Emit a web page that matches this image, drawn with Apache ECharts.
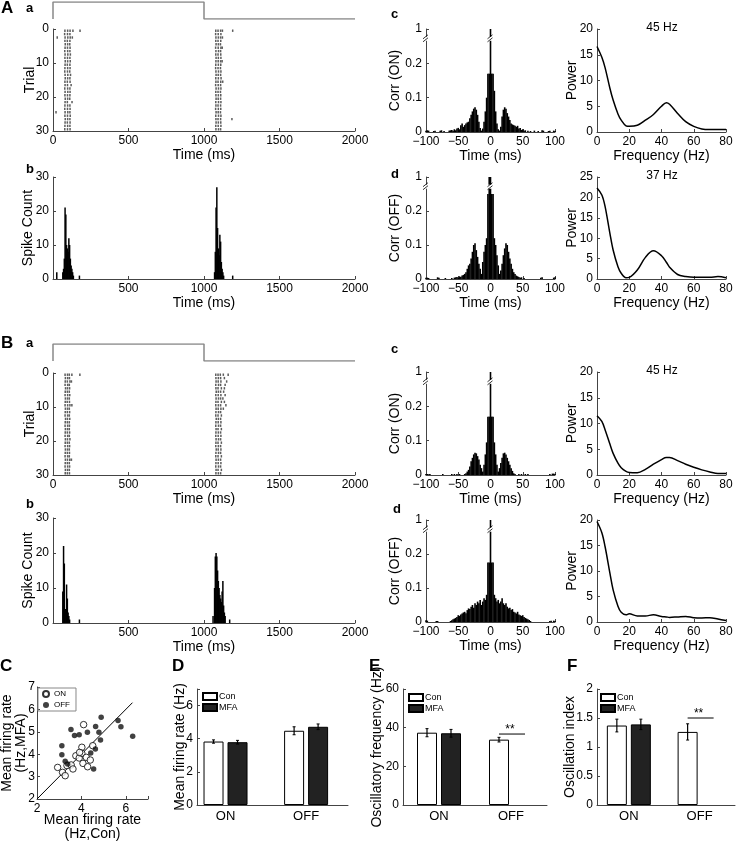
<!DOCTYPE html>
<html><head><meta charset="utf-8">
<script src="https://cdn.jsdelivr.net/npm/echarts@6/dist/echarts.min.js"></script>
<style>html,body{margin:0;padding:0;background:#fff}#c{width:738px;height:842px}</style>
</head><body><div id="c"></div><script>
// ---------------- DATA ----------------
const stimT = [0, 0, 1000, 1000, 2000];
const stimV = [0, 1, 1, 0, 0];

const rasterA_on = [
[79,97,113,132,179],[77,96,112],[28,80,98,114,128],[79,95,112],[81,97,111],
[80,96,113],[78,97,112],[80,98,115],[79,96,112],[81,97,114],
[80,95,112],[79,97,113],[78,96,111],[80,98,116],[81,97,112],
[79,95,113],[80,96,120],[78,97,112],[80,98,113],[79,96,112],
[81,97,111],[80,95,126],[79,97,112],[78,96,113],[20,80,98,112],
[79,96,114],[81,97,112],[80,95,113],[79,97,112],[78,96,113]];
const rasterA_off = [
[1078,1093,1110,1122,1190],[1077,1094,1112],[1079,1095,1110,1122],[1078,1093,1111],[1080,1095,1109],
[1077,1094,1112,1121],[1079,1096,1110],[1078,1093,1111],[1080,1095,1112],[1079,1094,1110,1120],
[1078,1095,1111],[1077,1093,1109],[1079,1096,1112],[1080,1094,1110],[1078,1095,1113],
[1079,1093,1111,1124],[1077,1094,1110],[1080,1096,1112],[1078,1093,1109],[1079,1095,1111],
[1080,1094,1110],[1078,1096,1112],[1079,1093,1110],[1077,1095,1111],[1080,1094,1109],
[1078,1096,1112],[1079,1093,1110,1185],[1080,1095,1111],[1078,1094,1112],[1079,1096,1110]];
const rasterB_on = [
[80,96,108,125,178],[82,97,109],[81,95,112,122],[80,97,108],[83,96,110],
[81,95,108],[80,97,111],[82,96,108],[81,94,109],[80,97,112,125],
[82,96,108],[81,95,110],[80,97,108],[83,96,111],[81,95,108],
[80,97,109],[82,96,108],[81,95,110],[80,97,108],[82,96,112],
[81,95,108],[80,97,110],[82,96,108],[81,95,109],[80,97,108],
[82,96,111,122],[81,95,108],[80,97,110],[82,96,108],[81,95,109]];
const rasterB_off = [
[1078,1093,1108,1128,1160],[1079,1095,1110,1135],[1080,1094,1112,1150],[1078,1096,1110,1140],[1079,1093,1115,1135],
[1081,1095,1110,1130],[1078,1094,1112,1140],[1080,1096,1110,1125],[1079,1093,1115,1135],[1078,1095,1110,1145],
[1080,1094,1112,1128],[1079,1096,1110],[1078,1093,1115],[1081,1095,1110],[1079,1094,1112],
[1078,1096,1110],[1080,1093,1115],[1079,1095,1110],[1078,1094,1112],[1080,1096,1110],
[1079,1093,1115],[1078,1095,1110],[1081,1094,1112],[1079,1096,1110],[1078,1093,1115],
[1080,1095,1110],[1079,1094,1112],[1078,1096,1110],[1080,1093,1115],[1079,1095,1110]];

const histA_t = [25,65,70,75,80,85,90,95,100,105,110,115,120,125,130,135,175,
                 1070,1075,1080,1085,1090,1095,1100,1105,1110,1115,1120,1125,1130,1190];
const histA_n = [2,2,3,6,21,19,10,9,8,12,10,6,4,3,2,1,1,
                 2,8,21,27,15,9,7,13,11,5,3,2,1,1];
const histB_t = [65,70,75,80,85,90,95,100,105,110,175,
                 1060,1070,1075,1080,1085,1090,1095,1100,1105,1110,1115,1120,1125,1130,1135,1140,1170];
const histB_n = [9,22,17,4,4,11,7,3,2,1,1,
                 2,10,19,20,19,15,12,10,8,7,6,9,12,5,3,2,1];

// cross-correlograms, 2 ms bins, lags -100 ... 100
const corrA_on = [
0.004,0.005,0.004,0,0,0,0.003,0.004,0,0,
0,0.004,0.005,0,0.003,0,0,0,0.004,0.005,
0.006,0.004,0.008,0.005,0.01,0.012,0.008,0.02,0.025,0.015,
0.02,0.025,0.028,0.03,0.04,0.05,0.06,0.068,0.072,0.065,
0.05,0.03,0.012,0.004,0.01,0.03,0.06,0.1,0.17,0.17,
1,
0.17,0.17,0.12,0.06,0.025,0.008,0.004,0.015,0.045,0.065,
0.072,0.068,0.055,0.045,0.035,0.025,0.022,0.02,0.018,0.015,
0.018,0.01,0.012,0.006,0.008,0.004,0.005,0,0.004,0,
0.003,0,0,0.004,0,0,0.003,0,0,0.005,
0.004,0,0,0,0.003,0.004,0,0,0.004,0.003];
const corrA_off = [
0.004,0.004,0.003,0,0,0,0,0,0,0.005,
0.004,0,0,0,0,0.003,0,0,0,0,
0.003,0,0.004,0.005,0.006,0.004,0.008,0.006,0.01,0.012,
0.015,0.02,0.03,0.04,0.045,0.06,0.08,0.1,0.105,0.085,
0.065,0.045,0.03,0.015,0.05,0.08,0.1,0.12,0.25,1,
1,
0.25,0.25,0.12,0.1,0.07,0.04,0.015,0.025,0.045,0.07,
0.09,0.105,0.1,0.08,0.06,0.045,0.03,0.02,0.015,0.01,
0.008,0.006,0.004,0.005,0,0.003,0,0,0,0,
0,0,0,0,0,0,0,0,0.004,0.005,
0,0,0,0,0,0,0,0,0.004,0.005];
const corrB_on = [
0.003,0.003,0.002,0.003,0,0,0,0,0,0,
0,0,0,0.003,0,0,0,0,0,0,
0.003,0,0.003,0,0.003,0,0.003,0,0,0,
0.003,0.005,0.01,0.015,0.025,0.04,0.05,0.06,0.065,0.063,
0.055,0.045,0.03,0.02,0.01,0.03,0.06,0.095,0.17,0.17,
1,
0.17,0.17,0.095,0.06,0.03,0.01,0.02,0.035,0.05,0.063,
0.065,0.06,0.05,0.04,0.03,0.02,0.012,0.005,0.003,0,
0,0.003,0,0.003,0,0,0.003,0,0.003,0,
0,0,0,0,0,0,0,0,0,0,
0,0,0,0,0,0.003,0,0.004,0.004,0.003];
const corrB_off = [
0.005,0.004,0,0,0,0,0,0,0.003,0.003,
0,0,0,0,0,0,0,0,0,0.003,
0.005,0.008,0.01,0.012,0.015,0.02,0.018,0.022,0.025,0.028,
0.03,0.026,0.035,0.04,0.038,0.045,0.05,0.042,0.055,0.05,
0.06,0.055,0.065,0.05,0.06,0.07,0.065,0.08,0.175,0.175,
1,
0.175,0.175,0.08,0.07,0.06,0.065,0.055,0.06,0.07,0.055,
0.05,0.055,0.045,0.04,0.042,0.035,0.038,0.03,0.028,0.025,
0.03,0.022,0.02,0.018,0.02,0.015,0.012,0.01,0.008,0.006,
0.003,0,0,0,0,0,0,0,0,0,
0,0,0,0,0,0.003,0.004,0,0.004,0.003];

// power spectra
const freqs   = [0,3,5,8,10,13,15,18,20,25,30,35,40,43,45,50,55,60,65,70,75,80];
const powA_on = [16.6,14.5,12.5,8.5,6.2,3.5,2.3,1.2,1.1,1.3,2.3,3.4,5.0,5.7,5.4,3.6,2.0,1.1,0.6,0.5,0.5,0.5];
const powA_off= [22.3,20.6,17.8,11.2,7.1,3.0,1.4,0.3,0.4,2.2,5.3,6.9,5.7,4.1,2.9,1.1,0.6,0.4,0.4,0.4,0.6,0.3];
const powB_on = [11.5,10.4,8.8,6.0,4.2,2.3,1.4,0.7,0.5,0.45,1.1,2.1,3.0,3.4,3.4,2.8,2.1,1.5,1.0,0.6,0.3,0.3];
const powB_off= [19.7,17.5,14.8,9.6,6.3,3.1,1.9,1.4,1.6,1.2,1.2,1.4,1.1,1.0,0.9,1.0,1.1,0.85,0.8,0.85,0.6,0.3];
const peakLabels = ['45 Hz', '37 Hz', '45 Hz'];

// C scatter
const onX  = [2.93,3.15,3.27,3.35,3.54,3.62,3.75,3.90,4.02,4.02,4.10,4.07,4.22,4.28,4.40,4.51,3.92];
const onY  = [3.41,3.19,3.04,3.49,3.52,3.34,3.93,3.83,4.31,4.04,5.32,3.59,3.86,3.44,3.74,4.38,4.08];
const offX = [3.12,3.12,3.27,3.38,3.53,3.69,3.90,4.27,4.42,4.64,4.63,4.79,4.86,4.89,4.55,5.65,5.78,6.31];
const offY = [4.38,3.98,3.68,3.56,5.10,4.83,4.87,4.98,4.05,5.24,4.23,4.98,4.63,5.65,3.34,5.50,5.23,4.80];
const diag = [2, 6.3];

// D, E, F bars (group 1 = ON, group 2 = OFF)
const groups = ['ON', 'OFF'];
const rateCon = [3.83, 4.48], rateConErr = [0.1, 0.24];
const rateMFA = [3.79, 4.72], rateMFAErr = [0.11, 0.17];
const freqCon = [37.4, 33.8], freqConErr = [2.1, 1.2];
const freqMFA = [37.1, null], freqMFAErr = [2.0, null];
const oiCon = [1.37, 1.26], oiConErr = [0.11, 0.14];
const oiMFA = [1.39, null], oiMFAErr = [0.09, null];
const sigE = [2, 36.7], sigF = [2, 1.5];

// ---------------- CHART ----------------
const FF = '"Liberation Sans", Arial, Helvetica, sans-serif';
const AX = '#444';
const CORR_BREAK = 0.27;
const grids = [], xAxes = [], yAxes = [], series = [];
const minus = v => String(v).replace('-', '\u2212');

function merge(a, b) {
  for (const k in b) {
    if (b[k] && typeof b[k] === 'object' && !Array.isArray(b[k]) && a[k] && typeof a[k] === 'object') merge(a[k], b[k]);
    else a[k] = b[k];
  }
  return a;
}
function baseAxis() {
  return {
    type: 'value',
    axisLine: {show: true, onZero: false, lineStyle: {color: AX, width: 1}},
    axisTick: {show: true, inside: true, length: 3, lineStyle: {color: AX}},
    axisLabel: {color: '#000', fontSize: 12, fontFamily: FF, margin: 4, formatter: v => minus(v)},
    splitLine: {show: false},
    nameLocation: 'middle',
    nameMoveOverlap: false,
    nameTextStyle: {color: '#000', fontSize: 14, fontFamily: FF}
  };
}
function panel(rect, xo, yo) {
  const gi = grids.length;
  grids.push(Object.assign({containLabel: false, outerBoundsMode: 'none', show: false}, rect));
  xAxes.push(merge(merge(baseAxis(), {gridIndex: gi}), xo));
  yAxes.push(merge(merge(baseAxis(), {gridIndex: gi}), yo));
  return gi;
}

function stimPanel(top) {
  const gi = panel({left: 53, top: top, width: 302, height: 17},
    {min: 0, max: 2000, show: false}, {min: 0, max: 1, show: false});
  series.push({type: 'line', xAxisIndex: gi, yAxisIndex: gi, symbol: 'none', silent: true,
    lineStyle: {color: '#888', width: 1.5}, data: stimT.map((t, i) => [t, stimV[i]])});
}
function rasterPanel(top, onTrials, offTrials) {
  const gi = panel({left: 53, top: top, width: 302, height: 102},
    {min: 0, max: 2000, interval: 500, name: 'Time (ms)', nameGap: 17},
    {min: 0, max: 30, interval: 10, inverse: true, name: 'Trial', nameGap: 16});
  const d = [];
  [onTrials, offTrials].forEach(tr => tr.forEach((ts, i) => ts.forEach(t => d.push([t, i + 0.5]))));
  series.push({type: 'scatter', xAxisIndex: gi, yAxisIndex: gi, symbol: 'rect', symbolSize: [1.5, 2.4],
    itemStyle: {color: '#333'}, data: d, silent: true});
}
function histPanel(top, height, ts, ns) {
  const gi = panel({left: 53, top: top, width: 302, height: height},
    {min: 0, max: 2000, interval: 500, name: 'Time (ms)', nameGap: 17,
     axisLabel: {formatter: v => v === 0 ? '' : String(v)}},
    {min: 0, max: 30, interval: 10, name: 'Spike Count', nameGap: 18});
  series.push({type: 'bar', xAxisIndex: gi, yAxisIndex: gi, barWidth: 1.5, itemStyle: {color: '#000'},
    data: ts.map((t, i) => [t, ns[i]]), silent: true});
}
function breakRender(params, api) {
  const p = api.coord([api.value(0), api.value(1)]);
  const x = p[0], y = p[1];
  return {type: 'group', children: [
    {type: 'rect', shape: {x: x - 3, y: y - 2.5, width: 6, height: 4}, style: {fill: '#fff'}},
    {type: 'line', shape: {x1: x - 3, y1: y - 0.5, x2: x + 2, y2: y - 4.5}, style: {stroke: '#000', lineWidth: 0.8}},
    {type: 'line', shape: {x1: x - 3, y1: y + 2.5, x2: x + 2, y2: y - 1.5}, style: {stroke: '#000', lineWidth: 0.8}}
  ]};
}
function corrPanel(top, height, vals, label) {
  const gi = panel({left: 426, top: top, width: 129, height: height},
    {min: -100, max: 100, interval: 50, name: 'Time (ms)', nameGap: 17},
    {min: 0, max: 0.3, interval: 0.1, name: label, nameGap: 24,
     axisLabel: {formatter: v => Math.abs(v - 0.3) < 1e-6 ? '1' : String(Math.round(v * 10) / 10)}});
  series.push({type: 'bar', xAxisIndex: gi, yAxisIndex: gi, barWidth: 1.6, itemStyle: {color: '#000'},
    data: vals.map((v, i) => [-100 + 2 * i, v]), silent: true});
  series.push({type: 'custom', xAxisIndex: gi, yAxisIndex: gi, renderItem: breakRender, silent: true, z: 5,
    data: [[-100, CORR_BREAK], [0, CORR_BREAK]]});
}
function powerPanel(top, height, ymax, vals) {
  const gi = panel({left: 597, top: top, width: 129, height: height},
    {min: 0, max: 80, interval: 20, name: 'Frequency (Hz)', nameGap: 17},
    {min: 0, max: ymax, interval: 5, name: 'Power', nameGap: 18});
  series.push({type: 'line', xAxisIndex: gi, yAxisIndex: gi, showSymbol: false, symbol: 'none', smooth: 0.35,
    lineStyle: {color: '#000', width: 1.5}, data: freqs.map((f, i) => [f, vals[i]]), silent: true});
}

// Panel A
stimPanel(2);
rasterPanel(29, rasterA_on, rasterA_off);
histPanel(177, 102, histA_t, histA_n);
corrPanel(29, 103, corrA_on, 'Corr (ON)');
powerPanel(29, 103, 20, powA_on);
corrPanel(177, 102, corrA_off, 'Corr (OFF)');
powerPanel(177, 102, 25, powA_off);
// Panel B
stimPanel(344);
rasterPanel(373, rasterB_on, rasterB_off);
histPanel(518, 105, histB_t, histB_n);
corrPanel(372, 103, corrB_on, 'Corr (ON)');
powerPanel(372, 103, 20, powB_on);
corrPanel(520, 102, corrB_off, 'Corr (OFF)');
powerPanel(520, 102, 20, powB_off);

// Panel C
(function () {
  const gi = panel({left: 37, top: 687, width: 111, height: 112},
    {min: 2, max: 7, interval: 2, name: 'Mean firing rate\n(Hz,Con)', nameGap: 14,
     nameTextStyle: {lineHeight: 14}, axisLabel: {formatter: v => v === 7 ? '' : String(v)}},
    {min: 2, max: 7, interval: 1, name: 'Mean firing rate\n(Hz,MFA)', nameGap: 9,
     nameTextStyle: {lineHeight: 14}, axisLabel: {margin: 2}});
  series.push({type: 'line', name: 'diag', xAxisIndex: gi, yAxisIndex: gi, symbol: 'none', silent: true,
    lineStyle: {color: '#000', width: 1}, data: diag.map(v => [v, v])});
  series.push({type: 'scatter', name: 'ON', xAxisIndex: gi, yAxisIndex: gi, symbol: 'circle', symbolSize: 6.5,
    itemStyle: {color: '#fff', borderColor: '#000', borderWidth: 1}, data: onX.map((x, i) => [x, onY[i]]), z: 4});
  series.push({type: 'scatter', name: 'OFF', xAxisIndex: gi, yAxisIndex: gi, symbol: 'circle', symbolSize: 5.5,
    itemStyle: {color: '#111'}, data: offX.map((x, i) => [x, offY[i]]), z: 4});
})();

// Bar panels
function errRender(params, api) {
  const c = api.value(0), m = api.value(1), e = api.value(2), side = api.value(3);
  const p1 = api.coord([c, m + e]), p0 = api.coord([c, m - e]);
  const x = p1[0] + side * 12;
  return {type: 'group', children: [
    {type: 'line', shape: {x1: x, y1: p1[1], x2: x, y2: p0[1]}, style: {stroke: '#000', lineWidth: 1.2}},
    {type: 'line', shape: {x1: x - 1.5, y1: p1[1], x2: x + 1.5, y2: p1[1]}, style: {stroke: '#000', lineWidth: 1}},
    {type: 'line', shape: {x1: x - 1.5, y1: p0[1], x2: x + 1.5, y2: p0[1]}, style: {stroke: '#000', lineWidth: 1}}
  ]};
}
function sigRender(params, api) {
  const p = api.coord([api.value(0), api.value(1)]);
  return {type: 'group', children: [
    {type: 'line', shape: {x1: p[0] - 12, y1: p[1], x2: p[0] + 14, y2: p[1]}, style: {stroke: '#000', lineWidth: 1}},
    {type: 'text', style: {x: p[0] - 1, y: p[1] + 2, text: '**', fontSize: 12, fontFamily: FF,
      textAlign: 'center', textVerticalAlign: 'bottom', fill: '#000'}}
  ]};
}
function barPanel(rect, xmin, xmax, ymax, yint, yname, ynameGap, con, conErr, mfa, mfaErr, sig, hideMax) {
  const gi = panel(rect,
    {min: xmin, max: xmax, axisTick: {show: false},
     axisLabel: {fontSize: 13, margin: 5, customValues: [1, 2], formatter: v => groups[Math.round(v) - 1] || ''}},
    {min: 0, max: ymax, interval: yint, name: yname, nameGap: ynameGap,
     axisLabel: {formatter: v => (hideMax && v === ymax) ? '' : String(v)}});
  series.push({type: 'bar', name: 'Con', xAxisIndex: gi, yAxisIndex: gi, barWidth: 20, barGap: '20%',
    itemStyle: {color: '#fff', borderColor: '#000', borderWidth: 1}, data: con.map((v, i) => [i + 1, v]), silent: true});
  series.push({type: 'bar', name: 'MFA', xAxisIndex: gi, yAxisIndex: gi, barWidth: 20, barGap: '20%',
    itemStyle: {color: '#222', borderColor: '#000', borderWidth: 1}, data: mfa.map((v, i) => [i + 1, v]), silent: true});
  const ed = [];
  con.forEach((m, i) => { if (m != null) ed.push([i + 1, m, conErr[i], -1]); });
  mfa.forEach((m, i) => { if (m != null) ed.push([i + 1, m, mfaErr[i], 1]); });
  series.push({type: 'custom', xAxisIndex: gi, yAxisIndex: gi, renderItem: errRender, data: ed, silent: true, z: 5});
  if (sig) series.push({type: 'custom', xAxisIndex: gi, yAxisIndex: gi, renderItem: sigRender, data: [sig], silent: true, z: 5});
}
barPanel({left: 197, top: 689, width: 151, height: 116}, 0.646, 2.52, 7, 2, 'Mean firing rate (Hz)', 10,
  rateCon, rateConErr, rateMFA, rateMFAErr, null, true);
barPanel({left: 403, top: 689, width: 144, height: 116}, 0.5, 2.5, 60, 20, 'Oscillatory frequency (Hz)', 19,
  freqCon, freqConErr, freqMFA, freqMFAErr, sigE, false);
barPanel({left: 597, top: 689, width: 138, height: 116}, 0.55, 2.5, 2, 0.5, 'Oscillation index', 20,
  oiCon, oiConErr, oiMFA, oiMFAErr, sigF, false);

function txt(x, y, s, size, bold, align) {
  return {type: 'text', x: x, y: y, silent: true,
    style: {text: s, fontSize: size, fontWeight: bold ? 'bold' : 'normal', fontFamily: FF, fill: '#000',
      textAlign: align || 'left', textVerticalAlign: 'top'}};
}
const graphics = [
  txt(1, 0, 'A', 17, true), txt(26, 2, 'a', 13, true), txt(26, 163, 'b', 13, true),
  txt(391, 8, 'c', 13, true), txt(391, 168, 'd', 13, true),
  txt(1, 335, 'B', 17, true), txt(26, 337, 'a', 13, true), txt(26, 498, 'b', 13, true),
  txt(391, 343, 'c', 13, true), txt(393, 503, 'd', 13, true),
  txt(0, 658, 'C', 17, true), txt(172, 658, 'D', 17, true), txt(369, 658, 'E', 17, true), txt(567, 658, 'F', 17, true),
  txt(662, 22, peakLabels[0], 12, false, 'center'), txt(662, 170, peakLabels[1], 12, false, 'center'),
  txt(662, 365, peakLabels[2], 12, false, 'center')
];

const barLegend = (left, top) => ({data: ['Con', 'MFA'], left: left, top: top, orient: 'vertical',
  icon: 'rect', itemWidth: 14, itemHeight: 7, itemGap: 2, padding: 0, selectedMode: false,
  textStyle: {fontSize: 9, fontFamily: FF, color: '#000', padding: [0, 0, 0, -3]}});

const option = {
  animation: false,
  backgroundColor: '#fff',
  textStyle: {fontFamily: FF},
  grid: grids, xAxis: xAxes, yAxis: yAxes, series: series,
  legend: [
    {data: ['ON', 'OFF'], left: 38, top: 688, orient: 'vertical', icon: 'circle', itemWidth: 6, itemHeight: 6,
     itemGap: 3, padding: [2, 6, 2, 4], borderColor: '#888', borderWidth: 1, selectedMode: false,
     textStyle: {fontSize: 8, fontFamily: FF, color: '#000'}},
    barLegend(202, 692), barLegend(408, 693), barLegend(600, 693)
  ],
  graphic: graphics
};
const chart = echarts.init(document.getElementById('c'), null, {renderer: 'canvas'});
chart.setOption(option);
</script></body></html>
